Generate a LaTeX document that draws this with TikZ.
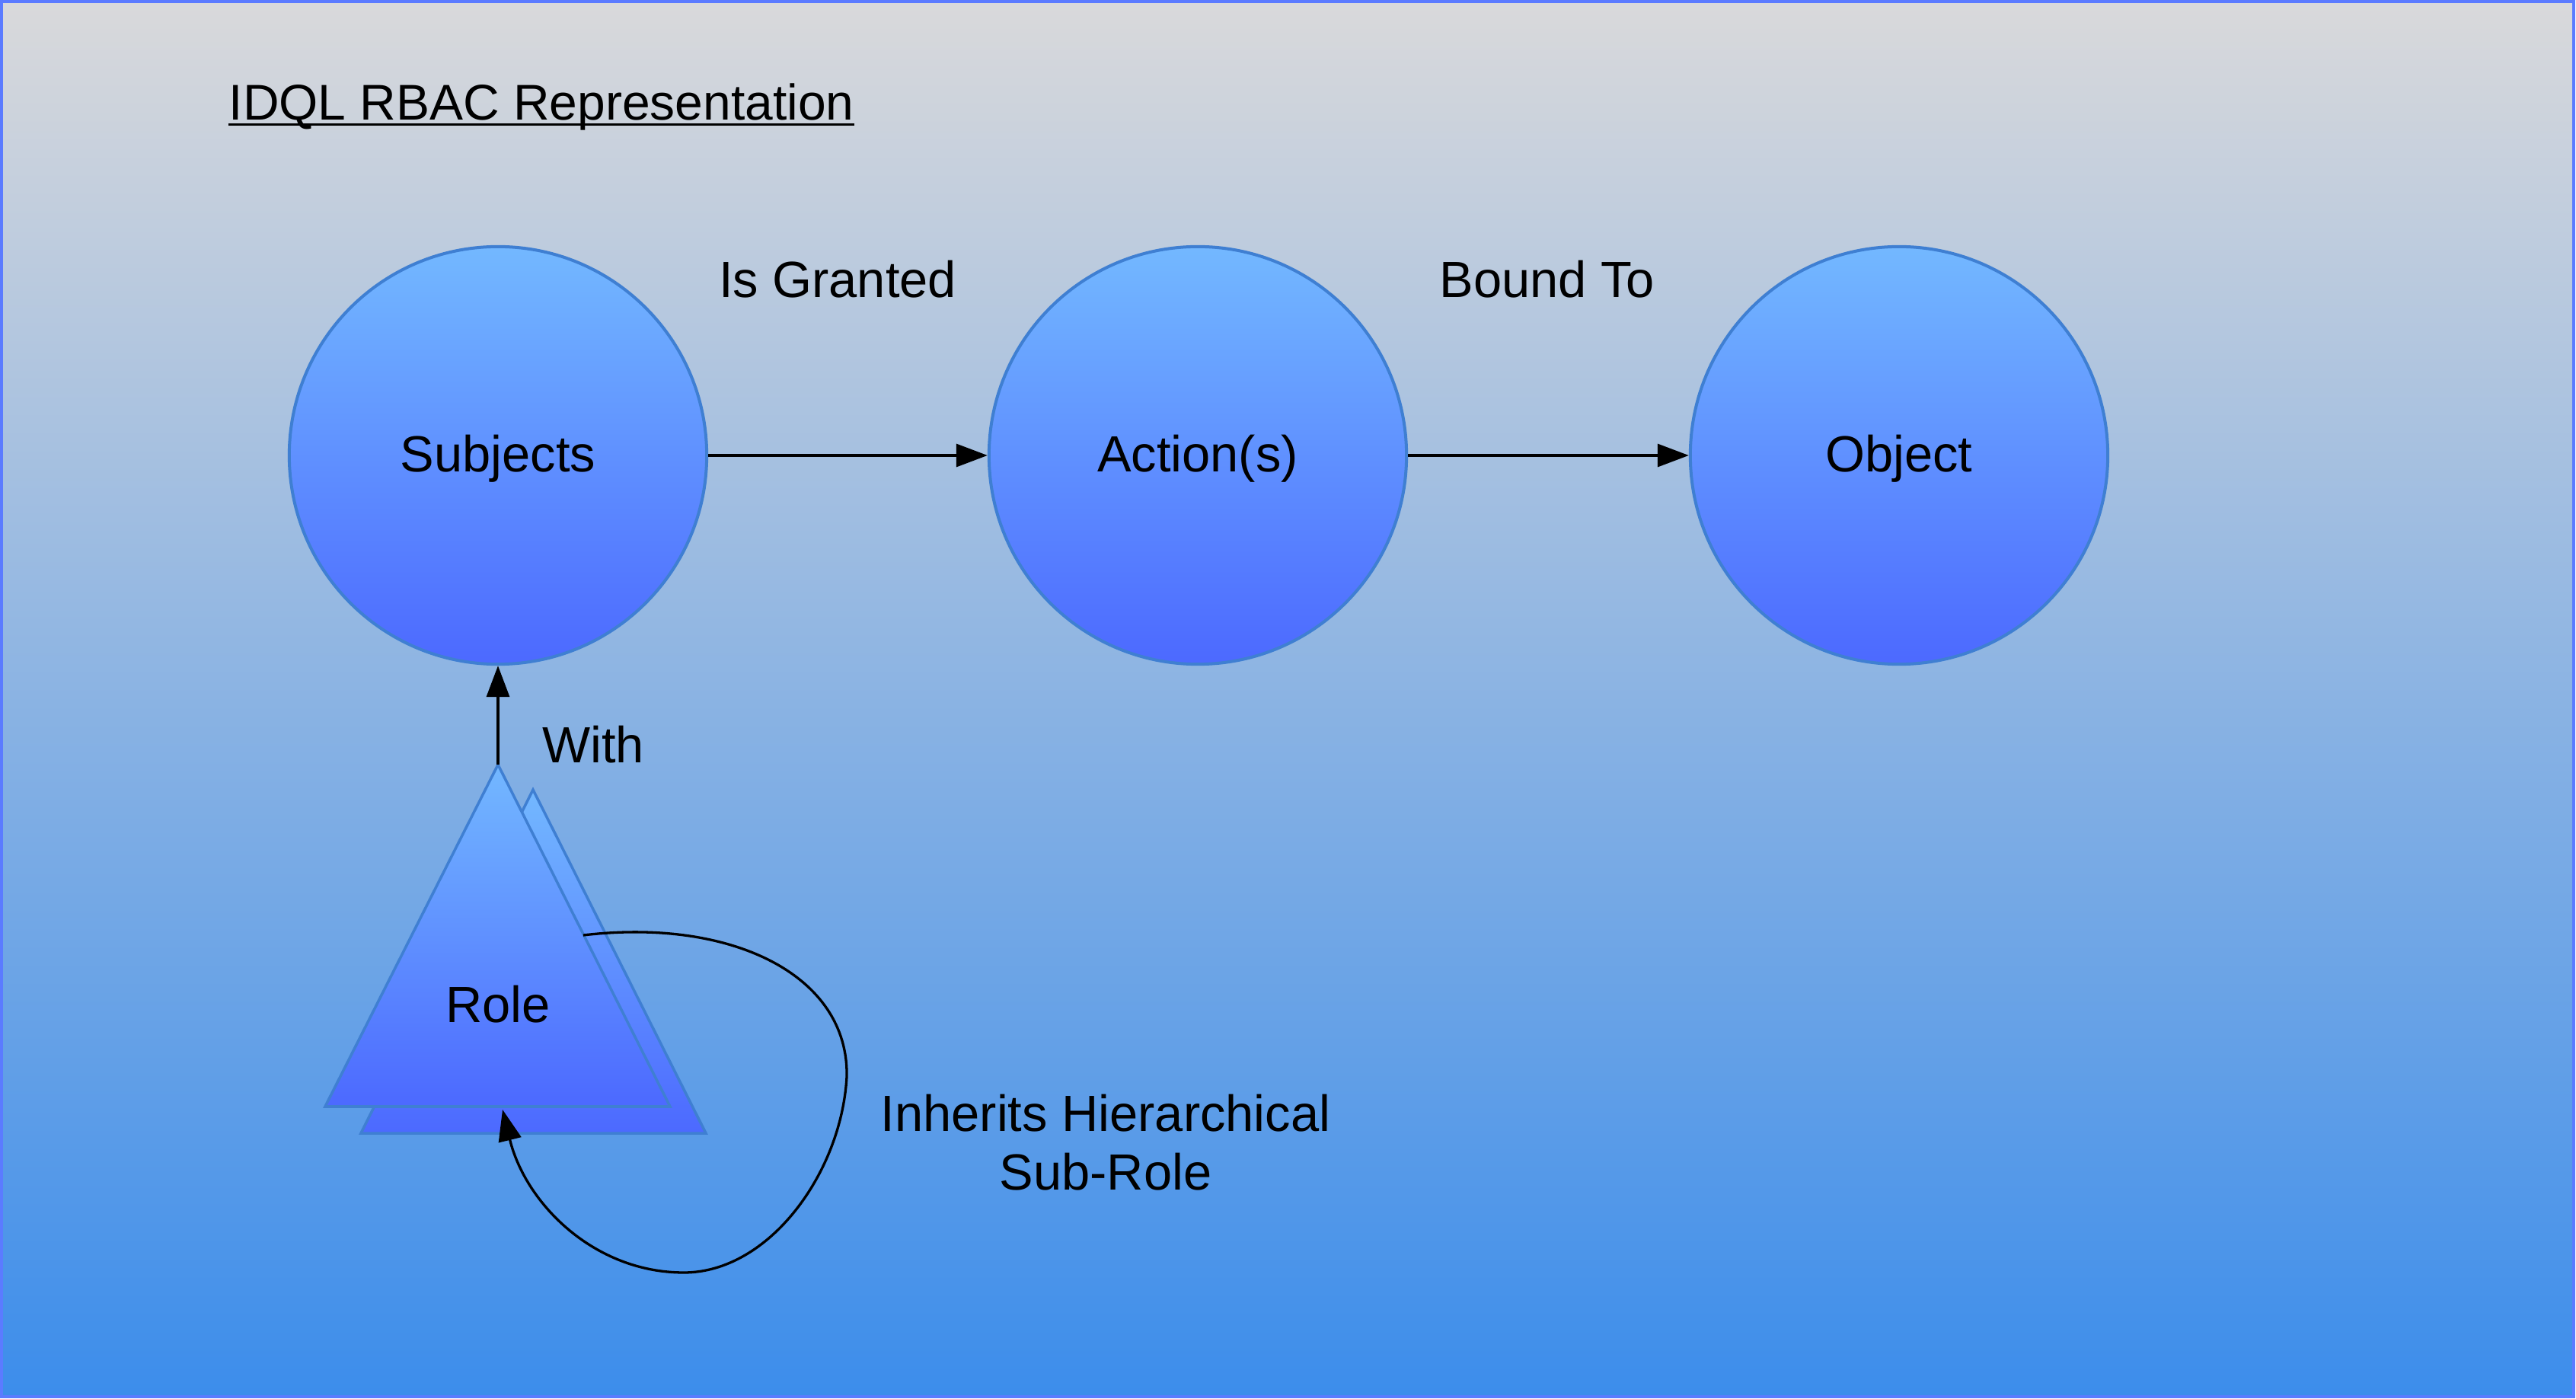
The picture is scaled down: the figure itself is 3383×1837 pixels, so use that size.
\documentclass[tikz,border=0pt]{standalone}
\usepackage{fontspec}
\setmainfont{Liberation Sans}
\usetikzlibrary{arrows.meta}
\definecolor{bgtop}{HTML}{D9D9DB}
\definecolor{bgbot}{HTML}{3C8DEB}
\definecolor{framec}{HTML}{5B7BFF}
\definecolor{shtop}{HTML}{73B8FF}
\definecolor{shbot}{HTML}{4C69FF}
\definecolor{shline}{HTML}{3F7FD2}
\begin{document}
\begin{tikzpicture}[x=0.01cm,y=-0.01cm,
  font=\fontsize{19}{22}\selectfont,
  entity/.style={circle, minimum size=5.48cm, inner sep=0pt, draw=shline, line width=0.04cm, top color=shtop, bottom color=shbot, text height=0.5cm, text depth=0.068cm},
  tri/.style={draw=shline, line width=0.035cm, top color=shtop, bottom color=shbot, line join=miter},
  conn/.style={draw=black, line width=0.033cm, -{Triangle[length=0.41cm,width=0.30cm]}},
  lbl/.style={inner sep=0pt, align=center}]
\useasboundingbox (0,0) rectangle (3383,1837);
\shade[top color=bgtop, bottom color=bgbot] (2,2) rectangle (3380,1834);
\draw[framec, line width=0.035cm] (2,2) rectangle (3380,1834);

\node[lbl, anchor=base west, font=\fontsize{18.75}{22}\selectfont] (title) at (300,158) {IDQL RBAC Representation};
\draw[line width=0.03cm] ([yshift=-0.055cm]title.base west) -- ([yshift=-0.055cm]title.base east);

\node[entity] (subj) at (654,598) {Subjects};
\node[entity] (act) at (1573,598) {Action(s)};
\node[entity] (obj) at (2494,598) {Object};

\node[lbl] (granted) at (1100,367) {Is Granted};
\node[lbl] (bound) at (2032,367) {Bound To};

% back triangle
\coordinate (bapex) at (700,1037);
\coordinate (bleft) at (474,1488);
\coordinate (bright) at (927,1488);
\path[tri] (bapex) -- (bright) -- (bleft) -- cycle;
% front triangle
\coordinate (fapex) at (654,1004);
\coordinate (fleft) at (427,1453);
\coordinate (fright) at (880,1453);
\path[tri] (fapex) -- (fright) -- (fleft) -- cycle;

\node[lbl] (role) at (654,1319) {Role};
\node[lbl] (with) at (779,978) {With};

\draw[conn] (subj) -- (act);
\draw[conn] (act) -- (obj);
\draw[conn] (fapex) -- (subj.south);

\coordinate (cstart) at (766,1228);
\coordinate (cend) at (660,1457);
\draw[conn] (cstart) .. controls (960,1205) and (1115,1280) .. (1112,1414)
  .. controls (1105,1540) and (1010,1671) .. (898,1671)
  .. controls (780,1671) and (690,1580) .. (cend);

\node[lbl] (inherit) at (1452,1500) {Inherits Hierarchical\\Sub-Role};
\end{tikzpicture}
\end{document}
